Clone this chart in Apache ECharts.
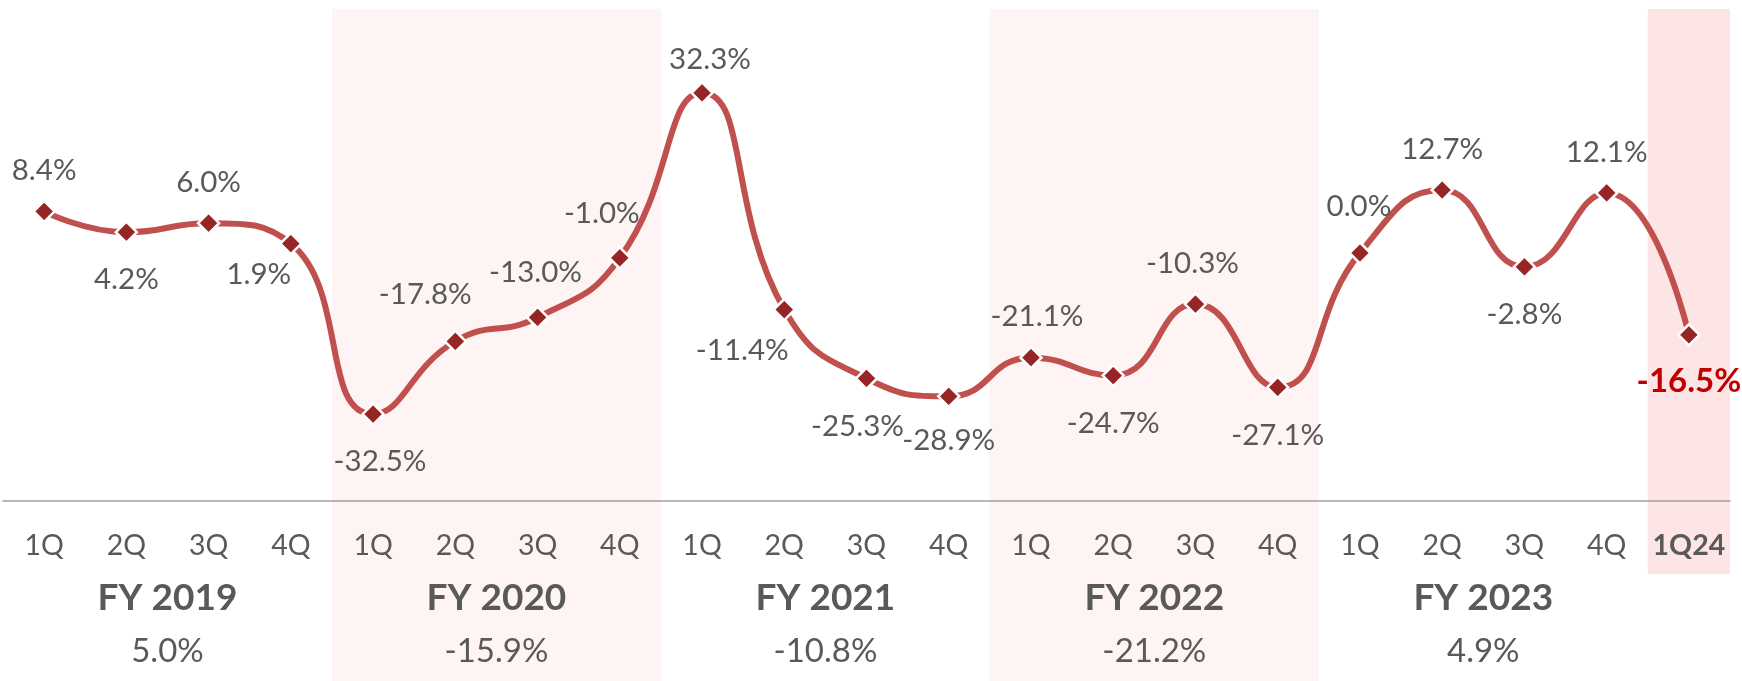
<!DOCTYPE html>
<html>
<head>
<meta charset="utf-8">
<script src="https://cdn.jsdelivr.net/npm/echarts@6/dist/echarts.min.js"></script>
<style>
html,body{margin:0;padding:0;background:#fff;}
#chart{width:1742px;height:681px;}
</style>
</head>
<body>
<div id="chart"></div>
<script>
// ---- data ----
const categories = ['1Q','2Q','3Q','4Q','1Q','2Q','3Q','4Q','1Q','2Q','3Q','4Q','1Q','2Q','3Q','4Q','1Q','2Q','3Q','4Q','1Q24'];
const growth = [8.4, 4.2, 6.0, 1.9, -32.5, -17.8, -13.0, -1.0, 32.3, -11.4, -25.3, -28.9, -21.1, -24.7, -10.3, -27.1, 0.0, 12.7, -2.8, 12.1, -16.5];
const fiscalYears = ['FY 2019','FY 2020','FY 2021','FY 2022','FY 2023'];
const fyTotals = [5.0, -15.9, -10.8, -21.2, 4.9];
const shadedYears = ['FY 2020','FY 2022'];

// ---- style config (label placement) ----
const labelPos = ['top','bottom','top','bottom','bottom','top','top','top','top','bottom','bottom','bottom','top','bottom','top','bottom','top','top','bottom','top','bottom'];
const labelDx  = [0,0,0,-32,7,-30,-2,-18,8,-42,-9,0,6,0,-3,0,-1,0,0,0,0];
const labelDy  = [0,0,0,-17,0,-6,-4,-4,7,-7,0,-4,0,0,0,0,-6,0,0,0,0];

const FONT = 'Lato';
const TXT = '#595959';
const quartersPerYear = 4;
const lastIdx = categories.length - 1;

const seriesData = growth.map((v, i) => {
  const isLast = i === lastIdx;
  const item = {
    value: v,
    label: {
      position: labelPos[i],
      offset: [labelDx[i], labelDy[i]],
      distance: labelPos[i] === 'top' ? 14 : 21
    }
  };
  if (isLast) {
    item.label.fontWeight = 'bold';
    item.label.color = '#C00000';
    item.label.fontSize = 33;
    item.label.distance = 18;
  }
  return item;
});

const catData = categories.map((c, i) => i === lastIdx ? { value: c, textStyle: { fontWeight: 'bold' } } : c);

const fyCenters = fiscalYears.map((_, k) => k * quartersPerYear + (quartersPerYear - 1) / 2);

const shadeAreas = shadedYears.map(y => {
  const k = fiscalYears.indexOf(y);
  return [
    { xAxis: k * quartersPerYear - 0.5, yAxis: 9, itemStyle: { color: '#FEF4F3' } },
    { xAxis: k * quartersPerYear + quartersPerYear - 0.5, yAxis: 681 }
  ];
});
shadeAreas.push([
  { xAxis: lastIdx - 0.5, yAxis: 9, itemStyle: { color: '#FDE5E5' } },
  { xAxis: lastIdx + 0.5, yAxis: 574 }
]);

const chart = echarts.init(document.getElementById('chart'));
chart.setOption({
  animation: false,
  backgroundColor: '#ffffff',
  textStyle: { fontFamily: FONT },
  grid: [
    { left: 3, right: 12, top: 5, bottom: 180 },
    { left: 3, right: 12, top: 0, bottom: 0 }
  ],
  xAxis: [
    {
      type: 'category', gridIndex: 0, data: catData, boundaryGap: true, position: 'bottom',
      axisLine: { show: true, onZero: false, lineStyle: { color: '#A0A0A0', width: 1.5 } },
      axisTick: { show: false },
      axisLabel: { interval: 0, margin: 30, color: TXT, fontSize: 28.5, fontFamily: FONT },
      z: 10
    },
    {
      type: 'value', gridIndex: 0, min: -0.5, max: lastIdx + 0.5, position: 'bottom', offset: 0,
      axisLine: { show: false, onZero: false }, axisTick: { show: false }, splitLine: { show: false },
      z: 10,
      axisLabel: {
        show: true,
        customValues: fyCenters,
        hideOverlap: false,
        margin: 70,
        formatter: (v) => {
          const k = fyCenters.indexOf(v);
          if (k < 0) return '';
          return '{n|' + fiscalYears[k] + '}\n{t|' + fyTotals[k].toFixed(1) + '%}';
        },
        rich: {
          n: { fontSize: 37, fontWeight: 'bold', color: TXT, lineHeight: 54, fontFamily: FONT },
          t: { fontSize: 33, color: TXT, lineHeight: 52, fontFamily: FONT }
        }
      }
    },
    {
      type: 'value', gridIndex: 1, min: -0.5, max: lastIdx + 0.5, show: false
    }
  ],
  yAxis: [
    { type: 'value', gridIndex: 0, min: -50, max: 50, show: false, splitLine: { show: false } },
    { type: 'value', gridIndex: 1, min: 0, max: 681, inverse: true, show: false, splitLine: { show: false } }
  ],
  series: [
    {
      type: 'line', xAxisIndex: 2, yAxisIndex: 1, data: [], z: -10, silent: true,
      markArea: { silent: true, z: -10, data: shadeAreas, itemStyle: { opacity: 1 } }
    },
    {
      type: 'line', xAxisIndex: 0, yAxisIndex: 0,
      data: seriesData,
      smooth: 0.5,
      z: 5,
      lineStyle: { color: '#C0504D', width: 6 },
      symbol: 'diamond',
      symbolSize: 21,
      itemStyle: { color: '#962626', borderColor: '#ffffff', borderWidth: 2.5 },
      label: {
        show: true,
        color: TXT,
        fontSize: 29.5,
        fontFamily: FONT,
        formatter: (p) => p.value.toFixed(1) + '%'
      }
    }
  ]
});
</script>
</body>
</html>
